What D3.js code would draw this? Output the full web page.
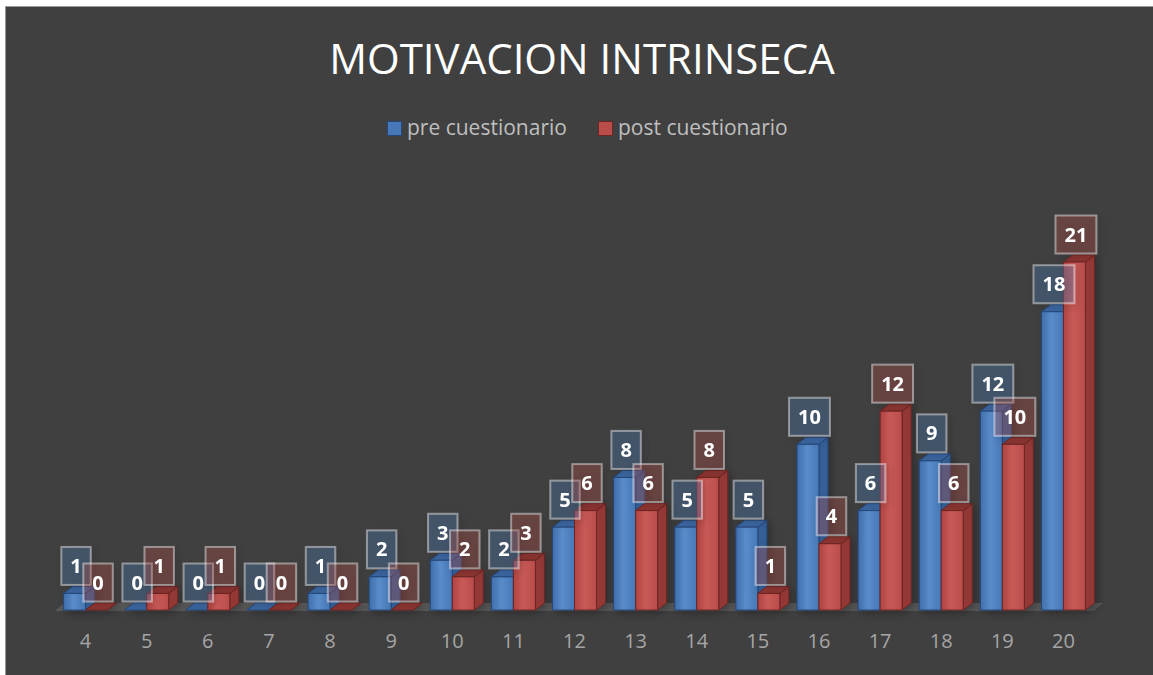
<!DOCTYPE html>
<html>
<head>
<meta charset="utf-8">
<script src="https://cdn.jsdelivr.net/npm/d3@7"></script>
<style>
  html, body { margin: 0; padding: 0; background: #ffffff; }
  svg { display: block; }
</style>
</head>
<body>
<div id="chart"></div>
<script>
  // DATA
  const categories = ["4", "5", "6", "7", "8", "9", "10", "11", "12", "13", "14", "15", "16", "17", "18", "19", "20"];
  const preValues = [1, 0, 0, 0, 1, 2, 3, 2, 5, 8, 5, 5, 10, 6, 9, 12, 18];
  const postValues = [0, 1, 1, 0, 0, 0, 2, 3, 6, 6, 8, 1, 4, 12, 6, 10, 21];
  const seriesNames = ["pre cuestionario", "post cuestionario"];

  const width = 1153, height = 675;
  const font = "'Open Sans', 'Noto Sans', sans-serif";

  // 3D depth offset
  const dx = 9, dy = 7;
  const y0 = 610;

  const svg = d3.select('#chart')
      .append('svg')
      .attr('width', width)
      .attr('height', height);

  // background + border
  svg.append('rect')
      .attr('x', 5.5).attr('y', 6.5)
      .attr('width', width).attr('height', height)
      .attr('fill', '#404040')
      .attr('stroke', '#9a9a9a')
      .attr('stroke-width', 1);

  const defs = svg.append('defs');

  const palette = [
      { front: ['#3f6eab', '#5a8cca', '#4778b7'], side: '#365f95', top: '#3a66a0', stroke: '#25477a',
        labelFill: 'rgba(79,129,189,0.3)' },
      { front: ['#ae4441', '#c95a57', '#b94d4a'], side: '#943936', top: '#8c3432', stroke: '#6d2523',
        labelFill: 'rgba(192,80,77,0.28)' }
  ];

  palette.forEach((p, i) => {
      const g = defs.append('linearGradient')
          .attr('id', 'front' + i)
          .attr('x1', '0%').attr('x2', '100%').attr('y1', '0%').attr('y2', '0%');
      g.append('stop').attr('offset', '0%').attr('stop-color', p.front[0]);
      g.append('stop').attr('offset', '45%').attr('stop-color', p.front[1]);
      g.append('stop').attr('offset', '100%').attr('stop-color', p.front[2]);
  });

  const shadow = defs.append('filter')
      .attr('id', 'shadow')
      .attr('x', '-30%').attr('y', '-30%').attr('width', '160%').attr('height', '160%');
  shadow.append('feDropShadow')
      .attr('dx', 3).attr('dy', 3).attr('stdDeviation', 4)
      .attr('flood-color', '#000').attr('flood-opacity', 0.3);

  // SCALES
  const xScale = d3.scaleBand()
      .domain(categories)
      .range([55, 1094])
      .paddingInner(0.28)
      .paddingOuter(0.14);

  const xSeries = d3.scaleBand()
      .domain([0, 1])
      .range([0, xScale.bandwidth()]);

  const yScale = d3.scaleLinear()
      .domain([0, 21])
      .range([y0, 262]);

  // Title
  svg.append('text')
      .attr('x', 582)
      .attr('y', 74)
      .attr('text-anchor', 'middle')
      .attr('font-family', font)
      .attr('font-size', 42)
      .attr('fill', '#ffffff')
      .text('MOTIVACION INTRINSECA');

  // Legend
  const legendX = [387, 598];
  const legend = svg.append('g');
  seriesNames.forEach((name, i) => {
      legend.append('rect')
          .attr('x', legendX[i] + 0.5).attr('y', 121.5)
          .attr('width', 14).attr('height', 14)
          .attr('fill', palette[i].front[2])
          .attr('stroke', palette[i].stroke);
      legend.append('text')
          .attr('x', legendX[i] + 20)
          .attr('y', 135)
          .attr('font-family', font)
          .attr('font-size', 21)
          .attr('fill', '#bfbfbf')
          .text(name);
  });

  // Floor
  const [fx0, fx1] = xScale.range();
  svg.append('path')
      .attr('d', `M${fx0},${y0 + 1}L${fx0 + dx},${y0 - dy}L${fx1 + dx},${y0 - dy}L${fx1},${y0 + 1}Z`)
      .attr('fill', '#595959');

  // Axis labels
  const xAxis = d3.axisBottom(xScale).tickSize(0).tickPadding(0);
  const axisG = svg.append('g')
      .attr('transform', `translate(0, ${y0 + 24})`)
      .call(xAxis);
  axisG.select('.domain').remove();
  axisG.selectAll('text')
      .attr('font-family', font)
      .attr('font-size', 20)
      .attr('fill', '#a6a6a6');

  // Bars
  const rows = categories.map((c, i) => ({ cat: c, values: [preValues[i], postValues[i]] }));
  const bw = xSeries.bandwidth();

  const barsG = svg.append('g').attr('filter', 'url(#shadow)');

  rows.forEach(row => {
      row.values.forEach((v, s) => {
          const x = xScale(row.cat) + xSeries(s);
          const yt = yScale(v);
          const p = palette[s];
          const g = barsG.append('g');
          // side
          g.append('path')
              .attr('d', `M${x + bw},${yt}L${x + bw + dx},${yt - dy}L${x + bw + dx},${y0 - dy}L${x + bw},${y0}Z`)
              .attr('fill', p.side).attr('stroke', p.stroke).attr('stroke-width', 1);
          // top
          g.append('path')
              .attr('d', `M${x},${yt}L${x + dx},${yt - dy}L${x + bw + dx},${yt - dy}L${x + bw},${yt}Z`)
              .attr('fill', p.top).attr('stroke', p.stroke).attr('stroke-width', 1);
          // front
          g.append('rect')
              .attr('x', x).attr('y', yt)
              .attr('width', bw).attr('height', y0 - yt)
              .attr('fill', `url(#front${s})`)
              .attr('stroke', p.stroke).attr('stroke-width', 1);
      });
  });

  // Data labels
  const labelsG = svg.append('g');
  rows.forEach(row => {
      row.values.forEach((v, s) => {
          const cx = xScale(row.cat) + xSeries(s) + bw / 2 + 1.5;
          const bottom = yScale(v) - 8.5;
          const lg = labelsG.append('g').attr('filter', 'url(#shadow)');
          const t = lg.append('text')
              .attr('x', cx)
              .attr('y', bottom - 12)
              .attr('text-anchor', 'middle')
              .attr('font-family', font)
              .attr('font-weight', 'bold')
              .attr('font-size', 20)
              .attr('fill', '#ffffff')
              .text(v);
          const tw = t.node().getComputedTextLength();
          const w = tw + 18, h = 38;
          lg.insert('rect', 'text')
              .attr('x', cx - w / 2).attr('y', bottom - h)
              .attr('width', w).attr('height', h)
              .attr('fill', palette[s].labelFill)
              .attr('stroke', 'rgba(255,255,255,0.42)')
              .attr('stroke-width', 2);
      });
  });
</script>
</body>
</html>
